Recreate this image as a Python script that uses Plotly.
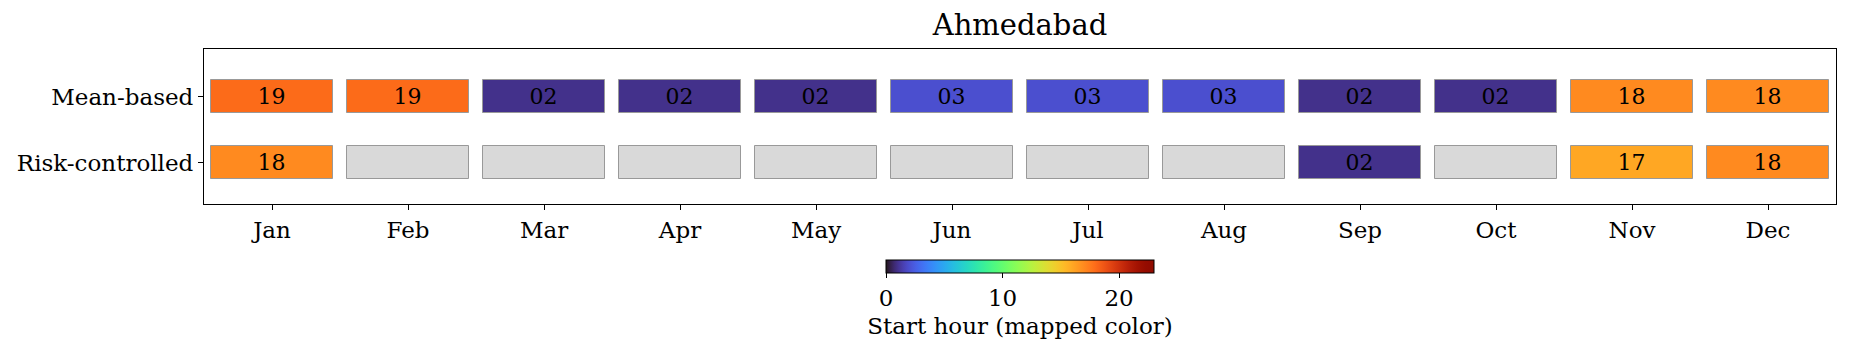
import plotly.graph_objects as go

# ---- data ----
months = ["Jan", "Feb", "Mar", "Apr", "May", "Jun", "Jul", "Aug", "Sep", "Oct", "Nov", "Dec"]
rows = ["Risk-controlled", "Mean-based"]
mean_based = [19, 19, 2, 2, 2, 3, 3, 3, 2, 2, 18, 18]
risk_controlled = [18, None, None, None, None, None, None, None, 2, None, 17, 18]
title = "Ahmedabad"
cbar_title = "Start hour (mapped color)"
cbar_ticks = [0, 10, 20]
vmin, vmax = 0, 23
color_offset = 1  # colour mapping in the reference sits one hour below the label

# ---- turbo colorscale (polynomial approximation) ----
def turbo(t):
    t = max(0.0, min(1.0, t))
    r = 34.61 + t * (1172.33 - t * (10793.56 - t * (33300.12 - t * (38394.49 - t * 14825.05))))
    g = 23.31 + t * (557.33 + t * (1225.33 - t * (3574.96 - t * (1073.77 + t * 707.56))))
    b = 27.2 + t * (3211.1 - t * (15327.97 - t * (27814 - t * (22569.18 - t * 6838.66))))
    c = [int(max(0, min(255, round(v)))) for v in (r, g, b)]
    return "rgb(%d,%d,%d)" % tuple(c)

N = 64
turbo_scale = [[i / (N - 1), turbo(i / (N - 1))] for i in range(N)]

FONT = "DejaVu Serif"
FS = 23
EDGE = "#999999"
CELL_W = 0.9
CELL_H = 0.5

fig = go.Figure()

def add_row(values, ypos, showscale):
    xs = [i for i, v in enumerate(values) if v is not None]
    vs = [values[i] for i in xs]
    fig.add_trace(go.Bar(
        x=xs, y=[CELL_H] * len(xs), base=[ypos - CELL_H / 2] * len(xs),
        width=CELL_W,
        marker=dict(color=vs, colorscale=turbo_scale,
                    cmin=vmin + color_offset, cmax=vmax + color_offset,
                    line=dict(color=EDGE, width=1),
                    showscale=showscale,
                    colorbar=dict(orientation="h", x=0.5, xanchor="center",
                                  y=-0.362, yanchor="top", xpad=0, ypad=0,
                                  len=268, lenmode="pixels", thickness=13,
                                  outlinecolor="black", outlinewidth=1,
                                  tickvals=[t + color_offset for t in cbar_ticks],
                                  ticktext=[str(t) for t in cbar_ticks],
                                  ticks="outside", ticklen=5, tickcolor="black",
                                  tickfont=dict(family=FONT, size=FS, color="black"),
                                  title=dict(text=cbar_title, side="bottom",
                                             font=dict(family=FONT, size=FS, color="black")))),
        text=["%02d" % v for v in vs], textposition="inside",
        insidetextanchor="middle", textangle=0,
        textfont=dict(family=FONT, size=FS - 1, color="black"),
        hoverinfo="skip", showlegend=False,
    ))
    miss = [i for i, v in enumerate(values) if v is None]
    if miss:
        fig.add_trace(go.Bar(
            x=miss, y=[CELL_H] * len(miss), base=[ypos - CELL_H / 2] * len(miss),
            width=CELL_W,
            marker=dict(color="#d9d9d9", line=dict(color=EDGE, width=1)),
            hoverinfo="skip", showlegend=False,
        ))

add_row(mean_based, 1, True)
add_row(risk_controlled, 0, False)

fig.update_layout(
    width=1850, height=351,
    margin=dict(l=204, r=14, t=49, b=147),
    paper_bgcolor="white", plot_bgcolor="white",
    barmode="overlay",
    bargap=0,
    font=dict(family=FONT, color="black"),
    title=dict(text=title, x=0.5 * (204 + 1836) / 1850, xanchor="center",
               y=1 - 25 / 351, yanchor="middle", yref="container",
               font=dict(family=FONT, size=29, color="black")),
    xaxis=dict(range=[-0.5, 11.5], tickvals=list(range(12)), ticktext=months,
               ticks="outside", ticklen=5, tickcolor="black",
               showline=True, linecolor="black", linewidth=1.2, mirror=True,
               showgrid=False, zeroline=False,
               tickfont=dict(family=FONT, size=FS, color="black")),
    yaxis=dict(range=[-0.624, 1.72], tickvals=[0, 1], ticktext=rows,
               ticks="outside", ticklen=5, tickcolor="black",
               showline=True, linecolor="black", linewidth=1.2, mirror=True,
               showgrid=False, zeroline=False,
               tickfont=dict(family=FONT, size=FS, color="black")),
)

fig.write_html("out.html")
